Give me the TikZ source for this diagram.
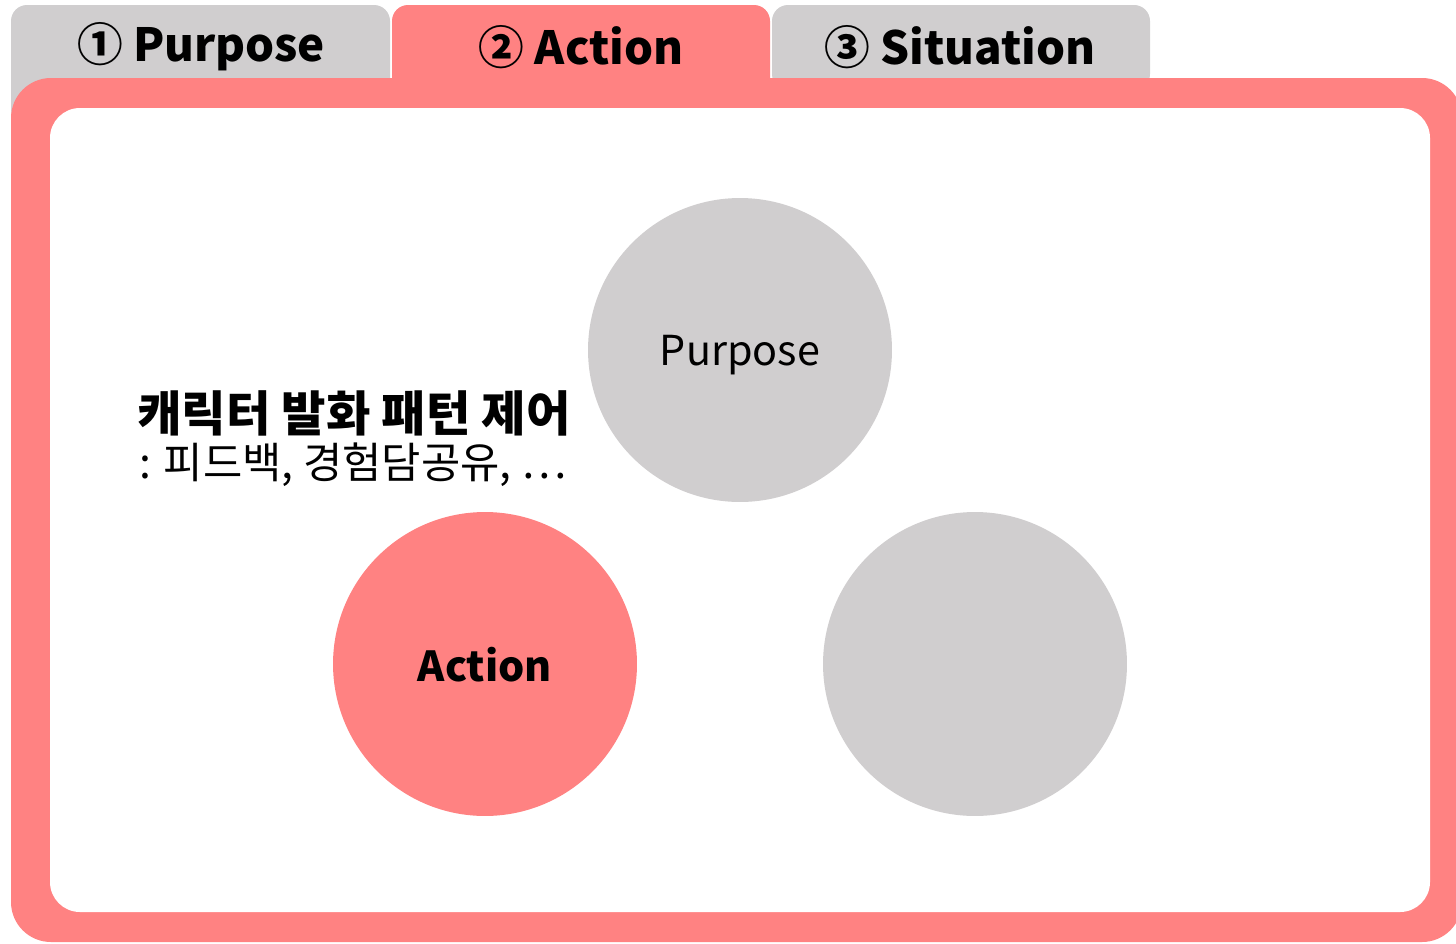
\documentclass[tikz,border=0pt]{standalone}
\usepackage{fontspec}
\setmainfont{Noto Sans CJK KR}
\usepackage{xcolor}
\definecolor{tabpink}{RGB}{255,130,130}
\definecolor{tabgray}{RGB}{208,206,207}
\usepackage{tikz}
\usetikzlibrary{positioning}

\begin{document}
\begin{tikzpicture}[
  x=0.02cm, y=-0.02cm,
  tablabel/.style={font=\fontsize{26}{30}\selectfont\bfseries, text=black},
  ball/.style={circle, minimum size=6.08cm, inner sep=0pt, text depth=0pt,
               font=\fontsize{23.5}{28}\selectfont}
]
  \useasboundingbox (0,0) rectangle (1456,943);

  % Tabs
  \fill[tabgray, rounded corners=0.32cm] (11,125) -- (11,5) -- (390,5) -- (390,125) -- cycle;
  \fill[tabgray, rounded corners=0.32cm] (772,90) -- (772,5) -- (1150,5) -- (1150,90) -- cycle;
  \fill[tabpink, rounded corners=0.32cm] (392,110) -- (392,5) -- (770,5) -- (770,110) -- cycle;

  % Frame
  \fill[tabpink, rounded corners=0.8cm] (11,78) rectangle (1462,942);
  \fill[white, rounded corners=0.6cm] (50,108) rectangle (1430,912);

  % Tab labels
  \node[tablabel] (tabpurpose)   at (201,47) {① Purpose};
  \node[tablabel] (tabaction)    at (581,47) {② Action};
  \node[tablabel] (tabsituation) at (960,47) {③ Situation};

  % Circles
  \node[ball, fill=tabgray] (purpose)   at (740,350) {Purpose};
  \node[ball, fill=tabpink, font=\fontsize{23.5}{28}\selectfont\bfseries] (action) at (485,664) {Action};
  \node[ball, fill=tabgray] (situation) at (975,664) {};

  % Description
  \node[anchor=base west, inner sep=0pt, font=\fontsize{27.5}{32}\selectfont\bfseries]
    (desctitle) at (137,431) {캐릭터 발화 패턴 제어};
  \node[anchor=base west, inner sep=0pt, font=\fontsize{24.3}{28}\selectfont]
    (descsub) at (139,478) {: 피드백, 경험담공유, …};
\end{tikzpicture}
\end{document}
